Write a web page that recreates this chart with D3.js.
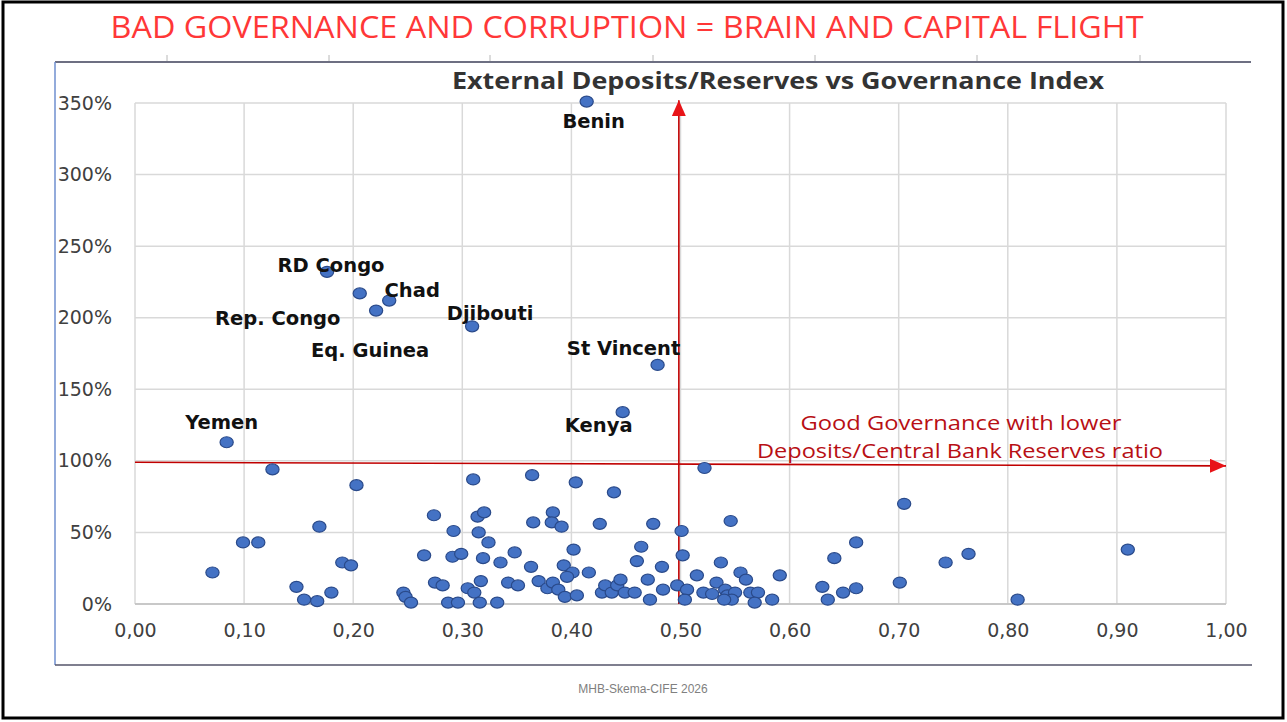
<!DOCTYPE html>
<html>
<head>
<meta charset="utf-8">
<script src="https://cdn.jsdelivr.net/npm/d3@7"></script>
<style>
  body { margin: 0; background: #fff; }
  svg { display: block; }
</style>
</head>
<body>
<svg id="chart" width="1287" height="722"></svg>
<script>
// axis ticks
var xTicks = [0, 0.1, 0.2, 0.3, 0.4, 0.5, 0.6, 0.7, 0.8, 0.9, 1.0];
var yTicks = [0, 50, 100, 150, 200, 250, 300, 350];

// countries called out on the chart
var namedCountries = ["Benin", "RD Congo", "Chad", "Rep. Congo", "Eq. Guinea", "Djibouti", "St Vincent", "Kenya", "Yemen"];
var namedGov       = [0.414, 0.176, 0.233, 0.206, 0.221, 0.309, 0.479, 0.447, 0.084];
var namedRatio     = [351, 232, 212, 217, 205, 194, 167, 134, 113];

// all other countries: governance index / external deposits as % of reserves
var govIndex = [
  0.126, 0.071, 0.099, 0.113, 0.148, 0.155, 0.167, 0.180, 0.169, 0.190,
  0.198, 0.203, 0.274, 0.265, 0.275, 0.282, 0.246, 0.248, 0.253, 0.287,
  0.296, 0.292, 0.291, 0.299, 0.310, 0.314, 0.320, 0.315, 0.324, 0.319,
  0.317, 0.305, 0.311, 0.316, 0.332, 0.335, 0.348, 0.342, 0.351, 0.364,
  0.365, 0.363, 0.370, 0.383, 0.382, 0.391, 0.378, 0.383, 0.388, 0.393,
  0.401, 0.396, 0.394, 0.405, 0.404, 0.402, 0.416, 0.426, 0.439, 0.428,
  0.431, 0.437, 0.442, 0.445, 0.449, 0.458, 0.460, 0.464, 0.475, 0.470,
  0.472, 0.483, 0.484, 0.497, 0.501, 0.502, 0.506, 0.504, 0.515, 0.521,
  0.529, 0.533, 0.537, 0.522, 0.546, 0.541, 0.543, 0.550, 0.547, 0.540,
  0.555, 0.560, 0.564, 0.571, 0.568, 0.584, 0.591, 0.630, 0.635, 0.649,
  0.661, 0.641, 0.661, 0.705, 0.701, 0.743, 0.764, 0.809, 0.910
];
var depositRatio = [
  94, 22, 43, 43, 12, 3, 2, 8, 54, 29,
  27, 83, 62, 34, 15, 13, 8, 5, 1, 1,
  1, 51, 33, 35, 87, 61, 64, 50, 43, 32,
  16, 11, 8, 1, 1, 29, 36, 15, 13, 90,
  57, 26, 16, 64, 57, 54, 11, 15, 10, 27,
  22, 19, 5, 6, 85, 38, 22, 56, 78, 8,
  13, 8, 13, 17, 8, 8, 30, 40, 56, 17,
  3, 26, 10, 13, 51, 34, 10, 3, 20, 8,
  7, 15, 29, 95, 58, 10, 6, 8, 3, 3,
  22, 17, 8, 8, 1, 3, 20, 12, 3, 8,
  11, 32, 43, 70, 15, 29, 35, 3, 38
];

// label placement relative to each named point (px)
var labelOffsets = {
  "Benin": [7, 21], "RD Congo": [4, -5], "Chad": [23, -9], "Rep. Congo": [-82, 26],
  "Eq. Guinea": [-6, 41], "Djibouti": [18, -12], "St Vincent": [-34, -15],
  "Kenya": [-24, 14], "Yemen": [-5, -19]
};

var svg = d3.select("#chart");

var x = d3.scaleLinear().domain([0, 1]).range([135, 1226]);
var y = d3.scaleLinear().domain([0, 350]).range([604, 103]);

// outer frame
svg.append("rect")
    .attr("x", 3).attr("y", 2).attr("width", 1280).attr("height", 716)
    .attr("fill", "#fff").attr("stroke", "#000").attr("stroke-width", 3);

// headline
svg.append("text")
    .attr("x", 627).attr("y", 30)
    .attr("text-anchor", "middle").attr("dominant-baseline", "middle")
    .attr("textLength", 1033).attr("lengthAdjust", "spacingAndGlyphs")
    .style("font-family", "'Liberation Sans Narrow', 'Open Sans', sans-serif")
    .style("font-size", "31px").style("fill", "#ff3737")
    .text("BAD GOVERNANCE AND CORRUPTION = BRAIN AND CAPITAL FLIGHT");

// chart box: top rule with small ticks, left edge, bottom rule
var box = svg.append("g");
box.append("line").attr("x1", 55).attr("x2", 1251).attr("y1", 62).attr("y2", 62)
    .attr("stroke", "#3c3f58").attr("stroke-width", 1.5);
box.append("line").attr("x1", 55).attr("x2", 55).attr("y1", 62).attr("y2", 665)
    .attr("stroke", "#6f8fcf").attr("stroke-width", 1.5);
box.append("line").attr("x1", 55).attr("x2", 1252).attr("y1", 665).attr("y2", 665)
    .attr("stroke", "#55556a").attr("stroke-width", 1.5);
box.selectAll(".topTick").data([167, 329, 490, 653, 815, 977, 1140]).enter()
  .append("line").attr("class", "topTick")
    .attr("x1", function(d) { return d; }).attr("x2", function(d) { return d; })
    .attr("y1", 55).attr("y2", 61)
    .attr("stroke", "#b8b8b8").attr("stroke-width", 1);

// gridlines
var grid = svg.append("g").attr("stroke", "#d9d9d9").attr("stroke-width", 1.5);
grid.selectAll(".vgrid").data(xTicks).enter().append("line")
    .attr("x1", function(d) { return x(d); }).attr("x2", function(d) { return x(d); })
    .attr("y1", y(0)).attr("y2", y(350));
grid.selectAll(".hgrid").data(yTicks).enter().append("line")
    .attr("x1", x(0)).attr("x2", x(1))
    .attr("y1", function(d) { return y(d); }).attr("y2", function(d) { return y(d); });
svg.append("line").attr("x1", x(0)).attr("x2", x(1)).attr("y1", y(0)).attr("y2", y(0))
    .attr("stroke", "#bfbfbf").attr("stroke-width", 1.5);

// axes
var fmtX = function(d) { return d3.format(".2f")(d).replace(".", ","); };
var yAxis = svg.append("g").attr("transform", "translate(" + x(0) + ",0)")
    .call(d3.axisLeft(y).tickValues(yTicks).tickSize(0).tickPadding(23)
      .tickFormat(function(d) { return d + "%"; }));
var xAxis = svg.append("g").attr("transform", "translate(0," + y(0) + ")")
    .call(d3.axisBottom(x).tickValues(xTicks).tickSize(0).tickPadding(20).tickFormat(fmtX));
[xAxis, yAxis].forEach(function(a) {
  a.select(".domain").remove();
  a.selectAll("text")
    .style("font-family", "'DejaVu Sans', sans-serif")
    .style("font-size", "19px").style("fill", "#404040");
});

// chart title
svg.append("text")
    .attr("x", 778).attr("y", 83)
    .attr("text-anchor", "middle").attr("dominant-baseline", "middle")
    .attr("textLength", 652).attr("lengthAdjust", "spacingAndGlyphs")
    .style("font-family", "'Liberation Sans Narrow', 'Open Sans', sans-serif")
    .style("font-size", "24px").style("font-weight", "bold").style("fill", "#333")
    .text("External Deposits/Reserves vs Governance Index");

// arrows
var defs = svg.append("defs");
defs.append("marker")
    .attr("id", "arrow")
    .attr("markerUnits", "userSpaceOnUse")
    .attr("markerWidth", 16).attr("markerHeight", 14)
    .attr("viewBox", "0 0 16 14").attr("refX", 16).attr("refY", 7)
    .attr("orient", "auto")
  .append("path").attr("d", "M0,0 L16,7 L0,14 Z").attr("fill", "#e81418");

svg.append("line")
    .attr("x1", x(0)).attr("y1", y(99))
    .attr("x2", x(1)).attr("y2", y(96.5))
    .attr("stroke", "#c00000").attr("stroke-width", 1.6)
    .attr("marker-end", "url(#arrow)");
svg.append("line")
    .attr("x1", x(0.4985)).attr("y1", y(0))
    .attr("x2", x(0.4985)).attr("y2", y(352))
    .attr("stroke", "#c00000").attr("stroke-width", 1.6)
    .attr("marker-end", "url(#arrow)");

// note about good governance
var note = svg.append("g")
    .style("font-family", "'Liberation Sans Narrow', 'Open Sans', sans-serif")
    .style("font-size", "20px").style("fill", "#b80f14")
    .attr("text-anchor", "middle");
note.append("text").attr("x", 961).attr("y", 430)
    .attr("textLength", 321).attr("lengthAdjust", "spacingAndGlyphs")
    .text("Good Governance with lower");
note.append("text").attr("x", 960).attr("y", 458)
    .attr("textLength", 406).attr("lengthAdjust", "spacingAndGlyphs")
    .text("Deposits/Central Bank Reserves ratio");

// dots
var others = govIndex.map(function(g, i) { return {g: g, r: depositRatio[i]}; });
var named = namedCountries.map(function(n, i) { return {name: n, g: namedGov[i], r: namedRatio[i]}; });

function drawDots(data) {
  svg.append("g").selectAll("ellipse").data(data).enter().append("ellipse")
      .attr("cx", function(d) { return x(d.g); })
      .attr("cy", function(d) { return y(d.r); })
      .attr("rx", 6.6).attr("ry", 5.5)
      .attr("fill", "#4472c4").attr("stroke", "#2a4a8a").attr("stroke-width", 1.2);
}
drawDots(others);
drawDots(named);

// country labels
svg.append("g").selectAll("text").data(named).enter().append("text")
    .attr("x", function(d) { return x(d.g) + labelOffsets[d.name][0]; })
    .attr("y", function(d) { return y(d.r) + labelOffsets[d.name][1]; })
    .attr("text-anchor", "middle").attr("dominant-baseline", "middle")
    .style("font-family", "'DejaVu Sans', sans-serif")
    .style("font-size", "19.5px").style("font-weight", "bold").style("fill", "#111")
    .text(function(d) { return d.name; });

// footer
svg.append("text")
    .attr("x", 643).attr("y", 690)
    .attr("text-anchor", "middle").attr("dominant-baseline", "middle")
    .style("font-family", "'Liberation Sans', sans-serif")
    .style("font-size", "12px").style("fill", "#808080")
    .text("MHB-Skema-CIFE 2026");
</script>
</body>
</html>
